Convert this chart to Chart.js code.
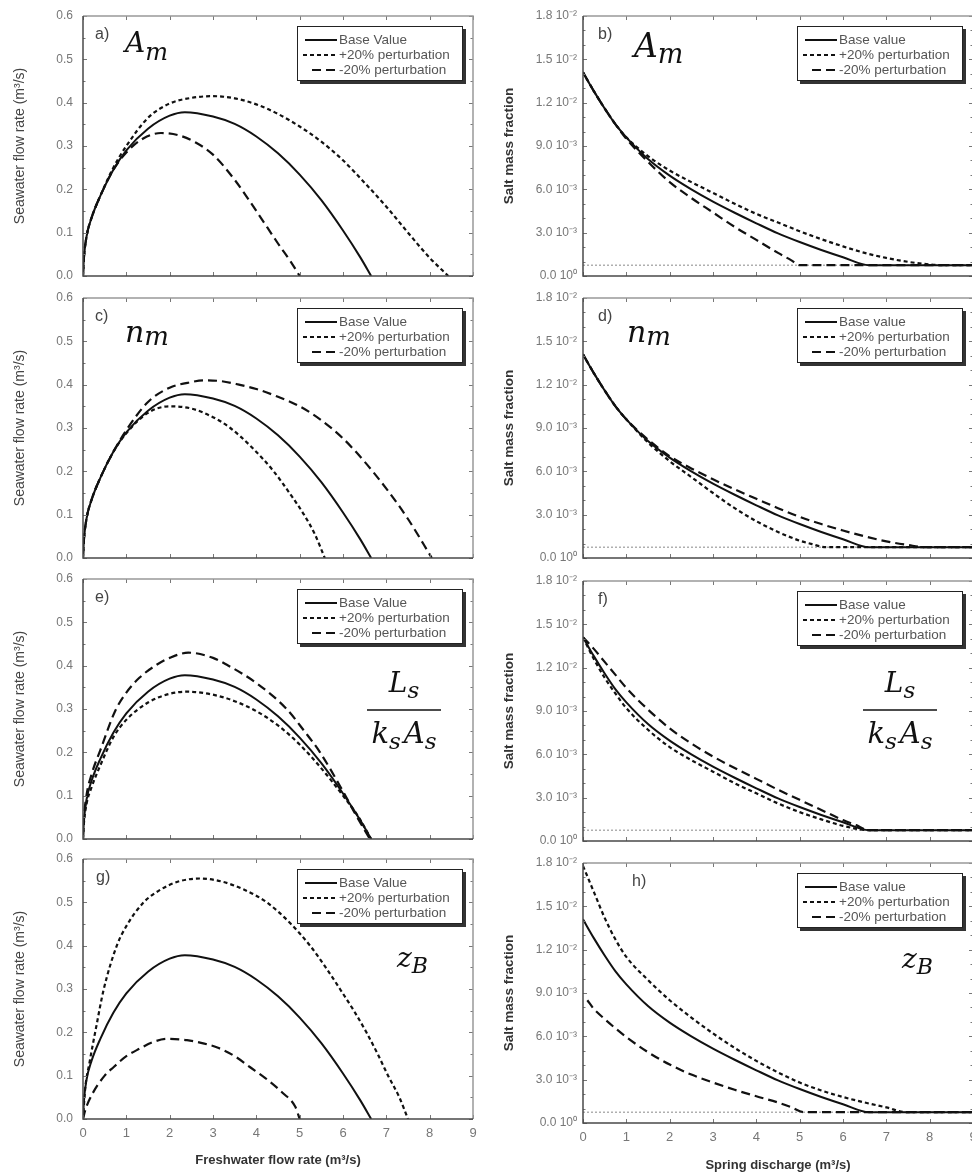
<!DOCTYPE html>
<html>
<head>
<meta charset="utf-8">
<script src="https://cdn.jsdelivr.net/npm/chart.js@4.4.1/dist/chart.umd.min.js"></script>
<style>
  html, body { margin: 0; padding: 0; background: #fff; overflow: hidden; }
  body { width: 972px; height: 1176px; position: relative; }
  canvas { position: absolute; }
</style>
</head>
<body>
<canvas id="pa"></canvas><canvas id="pb"></canvas>
<canvas id="pc"></canvas><canvas id="pd"></canvas>
<canvas id="pe"></canvas><canvas id="pf"></canvas>
<canvas id="pg"></canvas><canvas id="ph"></canvas>
<script>
// ---- data: [x, y] ----
// left column: seawater flow rate (m3/s) vs freshwater flow rate (m3/s)
const seaBase = [[0,0],[0.02,0.04],[0.08,0.09],[0.2,0.135],[0.4,0.185],[0.7,0.245],[1,0.29],[1.5,0.34],[2,0.37],[2.35,0.378],[3,0.368],[3.5,0.351],[4,0.322],[4.5,0.283],[5,0.234],[5.5,0.175],[6,0.105],[6.4,0.043],[6.65,0]];
const seaAPlus = [[0,0],[0.02,0.04],[0.08,0.09],[0.2,0.135],[0.4,0.185],[0.7,0.25],[1,0.3],[1.5,0.365],[2,0.398],[2.5,0.411],[3,0.415],[3.5,0.41],[4,0.396],[4.5,0.374],[5,0.345],[5.5,0.31],[6,0.267],[6.5,0.215],[7,0.16],[7.5,0.1],[8,0.042],[8.43,0]];
const seaAMinus = [[0,0],[0.02,0.04],[0.08,0.09],[0.2,0.135],[0.4,0.185],[0.7,0.245],[1,0.285],[1.4,0.318],[1.8,0.33],[2.2,0.325],[2.6,0.308],[3,0.28],[3.5,0.222],[4,0.15],[4.5,0.075],[4.8,0.032],[5,0]];
const seaNPlus = [[0,0],[0.02,0.04],[0.08,0.09],[0.2,0.135],[0.4,0.185],[0.7,0.245],[1,0.288],[1.5,0.335],[2,0.35],[2.5,0.345],[3,0.325],[3.4,0.3],[3.9,0.255],[4.4,0.2],[4.8,0.145],[5.1,0.1],[5.35,0.055],[5.58,0]];
const seaNMinus = [[0,0],[0.02,0.04],[0.08,0.09],[0.2,0.135],[0.4,0.185],[0.7,0.245],[1,0.295],[1.5,0.36],[2,0.393],[2.5,0.406],[2.8,0.41],[3.2,0.408],[3.6,0.4],[4,0.39],[4.5,0.372],[5,0.35],[5.5,0.318],[6,0.276],[6.5,0.222],[7,0.16],[7.5,0.09],[8.05,0]];
const seaLPlus = [[0,0],[0.02,0.035],[0.08,0.08],[0.2,0.12],[0.4,0.17],[0.7,0.235],[1,0.275],[1.5,0.315],[2,0.335],[2.4,0.34],[3,0.333],[3.5,0.318],[4,0.295],[4.5,0.262],[5,0.218],[5.5,0.163],[6,0.1],[6.35,0.052],[6.65,0]];
const seaLMinus = [[0,0],[0.02,0.045],[0.08,0.1],[0.2,0.15],[0.4,0.205],[0.74,0.295],[1,0.338],[1.3,0.372],[1.7,0.402],[2,0.418],[2.43,0.43],[3,0.418],[3.32,0.402],[4,0.36],[4.7,0.3],[5.1,0.25],[5.47,0.2],[6,0.11],[6.3,0.055],[6.62,0]];
const seaZPlus = [[0,0],[0.05,0.07],[0.15,0.13],[0.3,0.21],[0.48,0.3],[0.78,0.4],[1,0.445],[1.4,0.5],[1.8,0.53],[2.2,0.548],[2.7,0.555],[3.2,0.548],[3.7,0.53],[4.24,0.5],[4.8,0.45],[5.24,0.4],[5.6,0.35],[5.93,0.3],[6.25,0.25],[6.54,0.2],[6.8,0.15],[7.04,0.1],[7.3,0.05],[7.5,0]];
const seaZMinus = [[0,0],[0.05,0.02],[0.2,0.055],[0.5,0.1],[0.71,0.12],[1,0.145],[1.32,0.163],[1.6,0.177],[1.94,0.185],[2.4,0.182],[2.8,0.174],[3.1,0.165],[3.5,0.145],[3.85,0.12],[4.2,0.095],[4.61,0.06],[4.9,0.028],[5,0]];

// right column: salt mass fraction vs spring discharge (m3/s)
const saltBase = [[0,0.0141],[0.25,0.0128],[0.5,0.0116],[0.75,0.0105],[1,0.0096],[1.5,0.0081],[2,0.00695],[2.5,0.006],[3,0.00515],[3.5,0.00438],[4,0.00365],[4.5,0.00295],[5,0.00235],[5.5,0.0018],[6,0.0013],[6.6,0.00075],[9,0.00075]];
const saltAPlus = [[0,0.0141],[0.25,0.0128],[0.5,0.0116],[0.75,0.0105],[1,0.0096],[1.5,0.0083],[2,0.0073],[2.5,0.0065],[3,0.00575],[3.5,0.005],[4,0.0043],[4.5,0.0037],[5,0.0031],[5.5,0.00255],[6,0.00205],[6.5,0.0016],[7,0.00125],[7.5,0.00098],[8,0.0008],[8.3,0.00075],[9,0.00075]];
const saltAMinus = [[0,0.0141],[0.25,0.0128],[0.5,0.0116],[0.75,0.0105],[1,0.0095],[1.5,0.0079],[2,0.0065],[2.5,0.0054],[3,0.0044],[3.5,0.0034],[4,0.0025],[4.5,0.0016],[4.8,0.0011],[5,0.00075],[9,0.00075]];
const saltNPlus = [[0,0.0141],[0.25,0.0128],[0.5,0.0116],[0.75,0.0105],[1,0.0096],[1.5,0.008],[2,0.0067],[2.5,0.0056],[3,0.0045],[3.5,0.00345],[4,0.00255],[4.5,0.0018],[5,0.0012],[5.3,0.00095],[5.6,0.00075],[9,0.00075]];
const saltNMinus = [[0,0.0141],[0.25,0.0128],[0.5,0.0116],[0.75,0.0105],[1,0.0096],[1.5,0.0082],[2,0.00705],[2.5,0.0062],[3,0.00545],[3.5,0.00475],[4,0.0041],[4.5,0.00345],[5,0.00285],[5.5,0.00235],[6,0.0019],[6.5,0.0015],[7,0.00115],[7.5,0.0009],[7.9,0.00075],[9,0.00075]];
const saltLPlus = [[0,0.0141],[0.25,0.0126],[0.5,0.0113],[0.75,0.0102],[1,0.0092],[1.5,0.0077],[2,0.0065],[2.5,0.0056],[3,0.0048],[3.5,0.004],[4,0.0033],[4.5,0.0026],[5,0.002],[5.5,0.0015],[6,0.00105],[6.6,0.00075],[9,0.00075]];
const saltLMinus = [[0,0.0141],[0.25,0.0133],[0.5,0.0124],[0.75,0.0115],[1,0.0106],[1.5,0.0091],[2,0.0078],[2.5,0.00675],[3,0.00585],[3.5,0.00505],[4,0.0043],[4.5,0.00355],[5,0.00285],[5.5,0.00215],[6,0.00145],[6.3,0.0011],[6.6,0.00075],[9,0.00075]];
const saltZPlus = [[0,0.0178],[0.25,0.016],[0.5,0.0142],[0.75,0.0127],[1,0.0115],[1.5,0.0099],[2,0.0085],[2.5,0.0073],[3,0.0062],[3.5,0.0052],[4,0.0043],[4.5,0.0035],[5,0.0028],[5.5,0.00225],[6,0.0018],[6.5,0.00142],[7,0.00108],[7.45,0.00075],[9,0.00075]];
const saltZMinus = [[0.1,0.0085],[0.25,0.0079],[0.5,0.0072],[0.75,0.00655],[1,0.00595],[1.5,0.0049],[2,0.00405],[2.5,0.00335],[3,0.0028],[3.5,0.0023],[4,0.00185],[4.5,0.00142],[4.8,0.0011],[5.1,0.00075],[9,0.00075]];
const saltFloor = [[0,0.00075],[9,0.00075]];

const seaTicks = ['0.0', '0.1', '0.2', '0.3', '0.4', '0.5', '0.6'];
const saltTicks = ['0.0 10⁰', '3.0 10⁻³', '6.0 10⁻³', '9.0 10⁻³', '1.2 10⁻²', '1.5 10⁻²', '1.8 10⁻²'];
const flowTicks = ['0', '1', '2', '3', '4', '5', '6', '7', '8', '9'];

const FONT = '"Liberation Sans", Arial, sans-serif';
const MATH = '"DejaVu Serif", serif';
const PAD_TOP = 20;   // room for the top tick label inside the canvas
const PAD_BOT = 18;

const cols = [
    { left: 0, width: 484, axisW: 83, padR: 11, tops: [16, 298, 579, 859], yMax: 0.6, yStep: 0.1, minor: 0.05,
      ticks: seaTicks, tickPad: 10, baseLabel: 'Base Value',
      yTitle: 'Seawater flow rate (m³/s)', yTitleFont: { family: FONT, size: 14 }, yTitleColor: '#444', yTitlePad: 12,
      xTitle: 'Freshwater flow rate (m³/s)', xTitlePad: 8 },
    { left: 480, width: 505, axisW: 103, padR: 12, tops: [16, 298, 581, 863], yMax: 0.018, yStep: 0.003, minor: 0.001,
      ticks: saltTicks, tickPad: 6, baseLabel: 'Base value',
      yTitle: 'Salt mass fraction', yTitleFont: { family: FONT, size: 13.5, weight: 'bold' }, yTitleColor: '#333', yTitlePad: 21,
      xTitle: 'Spring discharge (m³/s)', xTitlePad: 3 }
];

const panels = [
    { id: 'pa', col: 0, row: 0, letter: 'a)', letterDx: 12, series: [seaBase, seaAPlus, seaAMinus],
      math: { type: 'sub', main: 'A', sub: 'm', dx: 42, base: 36, size: 28, subSize: 24, drop: 8 } },
    { id: 'pb', col: 1, row: 0, letter: 'b)', letterDx: 15, series: [saltBase, saltAPlus, saltAMinus],
      math: { type: 'sub', main: 'A', sub: 'm', dx: 51, base: 41, size: 33, subSize: 27, drop: 6 } },
    { id: 'pc', col: 0, row: 1, letter: 'c)', letterDx: 12, series: [seaBase, seaNPlus, seaNMinus],
      math: { type: 'sub', main: 'n', sub: 'm', dx: 42, base: 44, size: 30, subSize: 26, drop: 3 } },
    { id: 'pd', col: 1, row: 1, letter: 'd)', letterDx: 15, series: [saltBase, saltNPlus, saltNMinus],
      math: { type: 'sub', main: 'n', sub: 'm', dx: 44, base: 44, size: 30, subSize: 26, drop: 3 } },
    { id: 'pe', col: 0, row: 2, letter: 'e)', letterDx: 12, series: [seaBase, seaLPlus, seaLMinus],
      math: { type: 'frac', cx: 321, bar: 131 } },
    { id: 'pf', col: 1, row: 2, letter: 'f)', letterDx: 15, series: [saltBase, saltLPlus, saltLMinus],
      math: { type: 'frac', cx: 317, bar: 129 } },
    { id: 'pg', col: 0, row: 3, letter: 'g)', letterDx: 13, series: [seaBase, seaZPlus, seaZMinus],
      math: { type: 'sub', main: 'z', sub: 'B', dx: 314, base: 108, size: 28, subSize: 22, drop: 6 } },
    { id: 'ph', col: 1, row: 3, letter: 'h)', letterDx: 49, series: [saltBase, saltZPlus, saltZMinus],
      math: { type: 'sub', main: 'z', sub: 'B', dx: 319, base: 105, size: 28, subSize: 22, drop: 6 } }
];

const dashes = [[], [4, 3], [9, 5]];
const sampleStart = [8, 6, 15];

// frame with inward ticks on all four sides
const framePlugin = {
    id: 'frame',
    afterDatasetsDraw(chart, args, o) {
        const { ctx, chartArea: a, scales: { x, y } } = chart;
        ctx.save();
        ctx.lineWidth = 1;
        ctx.strokeStyle = '#777';
        ctx.beginPath();
        for (let i = 0; i <= 9; i++) {
            const px = Math.round(x.getPixelForValue(i)) + 0.5;
            ctx.moveTo(px, a.bottom); ctx.lineTo(px, a.bottom - 4);
            ctx.moveTo(px, a.top); ctx.lineTo(px, a.top + 4);
        }
        const n = Math.round(o.max / o.minor);
        const ratio = Math.round(o.step / o.minor);
        for (let i = 0; i <= n; i++) {
            const py = Math.round(y.getPixelForValue(i * o.minor)) + 0.5;
            const len = i % ratio === 0 ? 4 : 2.5;
            ctx.moveTo(a.left, py); ctx.lineTo(a.left + len, py);
            ctx.moveTo(a.right, py); ctx.lineTo(a.right - len, py);
        }
        ctx.stroke();
        ctx.lineWidth = 1.5;
        ctx.strokeStyle = '#999';
        ctx.beginPath();
        ctx.moveTo(a.left, a.top); ctx.lineTo(a.right, a.top); ctx.lineTo(a.right, a.bottom);
        ctx.stroke();
        ctx.strokeStyle = '#4a4a4a';
        ctx.beginPath();
        ctx.moveTo(a.left, a.top); ctx.lineTo(a.left, a.bottom); ctx.lineTo(a.right, a.bottom);
        ctx.stroke();
        ctx.restore();
    }
};

function drawSub(ctx, x, base, main, sub, size, subSize, drop) {
    ctx.font = `italic ${size}px ${MATH}`;
    ctx.fillText(main, x, base);
    const w = ctx.measureText(main).width;
    ctx.font = `italic ${subSize}px ${MATH}`;
    ctx.fillText(sub, x + w, base + drop);
    return w + ctx.measureText(sub).width;
}

function subWidth(ctx, main, sub, size, subSize) {
    ctx.font = `italic ${size}px ${MATH}`;
    const w = ctx.measureText(main).width;
    ctx.font = `italic ${subSize}px ${MATH}`;
    return w + ctx.measureText(sub).width;
}

const panelPlugin = {
    id: 'panel',
    afterDraw(chart, args, o) {
        const { ctx, chartArea: a } = chart;
        ctx.save();
        ctx.textBaseline = 'middle';
        ctx.textAlign = 'left';
        ctx.fillStyle = '#444';
        ctx.font = `16px ${FONT}`;
        ctx.fillText(o.letter, a.left + o.letterDx, a.top + 19);

        // legend box with shadow
        const bw = 166, bh = 55, bx = a.right - 10 - bw, by = a.top + 10;
        ctx.fillStyle = '#333';
        ctx.fillRect(bx + 3, by + 3, bw, bh);
        ctx.fillStyle = '#fff';
        ctx.fillRect(bx, by, bw, bh);
        ctx.strokeStyle = '#222';
        ctx.lineWidth = 1;
        ctx.strokeRect(bx + 0.5, by + 0.5, bw - 1, bh - 1);
        chart.data.datasets.slice(0, 3).forEach((ds, i) => {
            const yy = by + 14 + 15 * i;
            ctx.beginPath();
            ctx.setLineDash(ds.borderDash);
            ctx.lineWidth = 2;
            ctx.strokeStyle = '#111';
            ctx.moveTo(bx + sampleStart[i], yy);
            ctx.lineTo(bx + 40, yy);
            ctx.stroke();
            ctx.setLineDash([]);
            ctx.fillStyle = '#555';
            ctx.font = `13.5px ${FONT}`;
            ctx.fillText(ds.label, bx + 42, yy);
        });

        // parameter symbol
        const m = o.math;
        ctx.fillStyle = '#111';
        ctx.textBaseline = 'alphabetic';
        if (m.type === 'sub') {
            drawSub(ctx, a.left + m.dx, a.top + m.base, m.main, m.sub, m.size, m.subSize, m.drop);
        } else {
            const cx = a.left + m.cx, barY = a.top + m.bar;
            const nw = subWidth(ctx, 'L', 's', 28, 23);
            drawSub(ctx, cx - nw / 2, barY - 18, 'L', 's', 28, 23, 6);
            const w1 = subWidth(ctx, 'k', 's', 29, 23);
            const w2 = subWidth(ctx, 'A', 's', 29, 23);
            const x0 = cx - (w1 + w2 + 3) / 2;
            drawSub(ctx, x0, barY + 33, 'k', 's', 29, 23, 6);
            drawSub(ctx, x0 + w1 + 3, barY + 33, 'A', 's', 29, 23, 6);
            ctx.lineWidth = 1.5;
            ctx.strokeStyle = '#111';
            ctx.beginPath();
            ctx.moveTo(cx - 37, barY); ctx.lineTo(cx + 37, barY);
            ctx.stroke();
        }
        ctx.restore();
    }
};

function makeChart(p) {
    const col = cols[p.col];
    const top = col.tops[p.row];
    const last = p.row === 3;
    const bottomSpace = last ? 1176 - (top + 260) : PAD_BOT;
    const w = col.width, h = PAD_TOP + 260 + bottomSpace;
    const canvas = document.getElementById(p.id);
    canvas.width = w;
    canvas.height = h;
    canvas.style.left = col.left + 'px';
    canvas.style.top = (top - PAD_TOP) + 'px';
    canvas.style.width = w + 'px';
    canvas.style.height = h + 'px';

    const labels = [col.baseLabel, '+20% perturbation', '-20% perturbation'];
    const datasets = p.series.map((s, i) => ({
        label: labels[i],
        data: s,
        borderColor: '#111',
        borderWidth: i === 0 ? 2 : 2.2,
        borderDash: dashes[i],
        pointRadius: 0,
        fill: false,
        cubicInterpolationMode: 'monotone'
    }));
    if (p.col === 1) {
        datasets.push({
            label: 'floor', data: saltFloor, borderColor: '#888', borderWidth: 1,
            borderDash: [2, 2], pointRadius: 0, fill: false
        });
    }

    return new Chart(canvas, {
        type: 'line',
        data: { datasets },
        plugins: [framePlugin, panelPlugin],
        options: {
            responsive: false,
            animation: false,
            devicePixelRatio: 1,
            events: [],
            layout: { padding: { top: PAD_TOP, left: 0, right: col.padR, bottom: last ? 0 : bottomSpace } },
            plugins: {
                legend: { display: false },
                tooltip: { enabled: false },
                frame: { max: col.yMax, step: col.yStep, minor: col.minor },
                panel: { letter: p.letter, letterDx: p.letterDx, math: p.math }
            },
            scales: {
                x: {
                    type: 'linear', min: 0, max: 9, display: last,
                    afterFit: s => { if (last) s.height = bottomSpace; },
                    grid: { display: false, drawTicks: false },
                    border: { display: false },
                    ticks: { stepSize: 1, autoSkip: false, maxRotation: 0, padding: 7, color: '#777',
                             font: { family: FONT, size: 13 }, callback: (v, i) => flowTicks[i] },
                    title: { display: true, text: col.xTitle, color: '#333',
                             font: { family: FONT, size: 13, weight: 'bold' }, padding: { top: 0, bottom: col.xTitlePad } }
                },
                y: {
                    type: 'linear', min: 0, max: col.yMax,
                    afterFit: s => { s.width = col.axisW; },
                    grid: { display: false, drawTicks: false },
                    border: { display: false },
                    ticks: { stepSize: col.yStep, autoSkip: false, padding: col.tickPad, color: '#777',
                             font: { family: FONT, size: 12 }, callback: (v, i) => col.ticks[i] },
                    title: { display: true, text: col.yTitle, color: col.yTitleColor,
                             font: col.yTitleFont, padding: { top: col.yTitlePad, bottom: 0 } }
                }
            }
        }
    });
}

panels.forEach(makeChart);
</script>
</body>
</html>
